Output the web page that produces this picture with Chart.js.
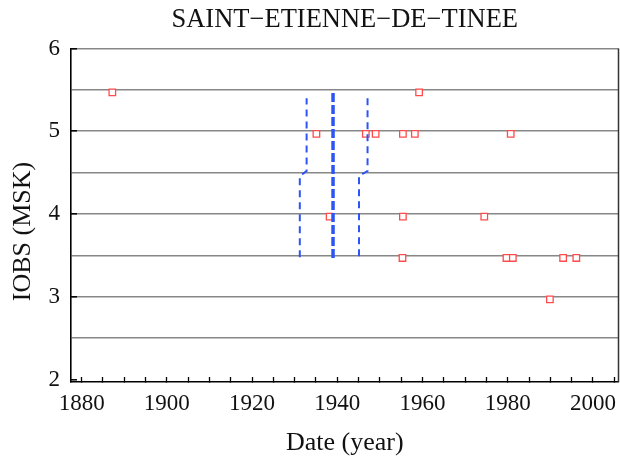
<!DOCTYPE html>
<html lang="fr">
<head>
<meta charset="UTF-8">
<title>SAINT-ETIENNE-DE-TINEE</title>
<script src="https://cdn.jsdelivr.net/npm/chart.js"></script>
<style>
  body { margin: 0; background: #fff; }
</style>
</head>
<body>
<canvas id="iobsChart" width="620" height="463"></canvas>
<script>
// observed intensities: year and IOBS (MSK)
const obsYears = [1887.2, 1959.2,
                  1935.1, 1946.7, 1949.0, 1955.4, 1958.2, 1980.7,
                  1938.2, 1955.4, 1974.5,
                  1955.3, 1979.7, 1981.2, 1993.0, 1996.1,
                  1989.9];
const obsIobs  = [5.47, 5.47,
                  4.97, 4.97, 4.97, 4.97, 4.97, 4.97,
                  3.97, 3.97, 3.97,
                  3.47, 3.47, 3.47, 3.47, 3.47,
                  2.97];

// blue dashed intervals
const leftStepYears  = [1931.2, 1931.2, 1932.8, 1932.8];
const leftStepIobs   = [3.48, 4.46, 4.52, 5.40];
const midYears       = [1939.0, 1939.0];
const midIobs        = [3.47, 5.50];
const rightStepYears = [1945.1, 1945.1, 1947.1, 1947.1];
const rightStepIobs  = [3.49, 4.46, 4.52, 5.40];

// axis ticks
const xTickYears  = [1880, 1885, 1890, 1895, 1900, 1905, 1910, 1915, 1920, 1925, 1930, 1935, 1940,
                     1945, 1950, 1955, 1960, 1965, 1970, 1975, 1980, 1985, 1990, 1995, 2000, 2005];
const xLabelYears = [1880, 1900, 1920, 1940, 1960, 1980, 2000];
const yTickValues = [2, 2.5, 3, 3.5, 4, 4.5, 5, 5.5, 6];
const yLabelValues = [2, 3, 4, 5, 6];

const toPoints = (xs, ys) => xs.map((x, i) => ({ x: x, y: ys[i] }));

const BLUE = 'rgb(45, 85, 245)';
const serif = 'Liberation Serif';

// right side of the frame
const frameRight = {
    id: 'frameRight',
    afterDraw(chart) {
        const { ctx, chartArea } = chart;
        ctx.save();
        ctx.strokeStyle = '#333';
        ctx.lineWidth = 1.5;
        ctx.beginPath();
        ctx.moveTo(chartArea.right, chartArea.top);
        ctx.lineTo(chartArea.right, chartArea.bottom);
        ctx.stroke();
        ctx.restore();
    }
};

const dashed = (data, width, dash) => ({
    data: data,
    showLine: true,
    borderColor: BLUE,
    borderWidth: width,
    borderDash: dash,
    pointRadius: 0,
    fill: false
});

new Chart(document.getElementById('iobsChart'), {
    type: 'scatter',
    data: {
        datasets: [
            dashed(toPoints(leftStepYears, leftStepIobs), 2, [7, 5]),
            dashed(toPoints(midYears, midIobs), 3.5, [9, 3]),
            dashed(toPoints(rightStepYears, rightStepIobs), 2, [7, 5]),
            {
                data: toPoints(obsYears, obsIobs),
                pointStyle: 'rect',
                pointRadius: 4.6,
                borderWidth: 1.3,
                borderColor: 'rgb(255, 75, 75)',
                backgroundColor: '#fff'
            }
        ]
    },
    options: {
        responsive: false,
        animation: false,
        // no auto padding, so the plot reaches the right edge like the original
        layout: { autoPadding: false, padding: { left: 0, right: 1.5, top: 0, bottom: 0 } },
        plugins: {
            legend: { display: false },
            tooltip: { enabled: false },
            title: {
                display: true,
                fullSize: false,
                text: 'SAINT\u2212ETIENNE\u2212DE\u2212TINEE',
                color: '#111',
                font: { family: serif, size: 26.5, weight: 'normal' },
                padding: { top: 4.2, bottom: 12.5 }
            }
        },
        scales: {
            x: {
                type: 'linear',
                min: 1877.5,
                max: 2006,
                afterBuildTicks: (scale) => { scale.ticks = xTickYears.map(v => ({ value: v })); },
                afterFit: (scale) => {
                    scale.height = 81;
                    scale.paddingLeft = 0;
                    scale.paddingRight = 0;
                },
                grid: {
                    drawOnChartArea: false,
                    drawTicks: true,
                    tickLength: -5,   // ticks point inward
                    tickColor: '#000',
                    tickWidth: 1.3
                },
                border: { display: true, color: '#000', width: 1.6 },
                ticks: {
                    autoSkip: false,
                    maxRotation: 0,
                    padding: 13,
                    color: '#111',
                    font: { family: serif, size: 23 },
                    callback: (v) => xLabelYears.includes(v) ? String(v) : ''
                },
                title: {
                    display: true,
                    text: 'Date (year)',
                    color: '#111',
                    font: { family: serif, size: 26 },
                    padding: { top: 0, bottom: 4.4 }
                }
            },
            y: {
                type: 'linear',
                min: 1.972,
                max: 6,
                afterBuildTicks: (scale) => { scale.ticks = yTickValues.map(v => ({ value: v })); },
                afterFit: (scale) => {
                    scale.width = 71;
                    scale.paddingTop = 0;
                    scale.paddingBottom = 0;
                },
                grid: {
                    color: (c) => c.tick && c.tick.value === 2 ? 'rgba(0,0,0,0)' : 'rgb(135,135,135)',
                    lineWidth: 1.6,
                    drawTicks: true,
                    tickLength: -6,
                    tickColor: (c) => c.tick && yLabelValues.includes(c.tick.value) ? '#000' : 'rgba(0,0,0,0)',
                    tickWidth: 1.5
                },
                border: { display: true, color: '#000', width: 1.6 },
                ticks: {
                    autoSkip: false,
                    padding: 17,
                    color: '#111',
                    font: { family: serif, size: 23 },
                    callback: (v) => yLabelValues.includes(v) ? String(v) : ''
                },
                title: {
                    display: true,
                    text: 'IOBS (MSK)     ',  // trailing spaces nudge the label down like the original
                    color: '#111',
                    font: { family: serif, size: 26 },
                    padding: { top: 7.4, bottom: 0 }
                }
            }
        }
    },
    plugins: [frameRight]
});
</script>
</body>
</html>
